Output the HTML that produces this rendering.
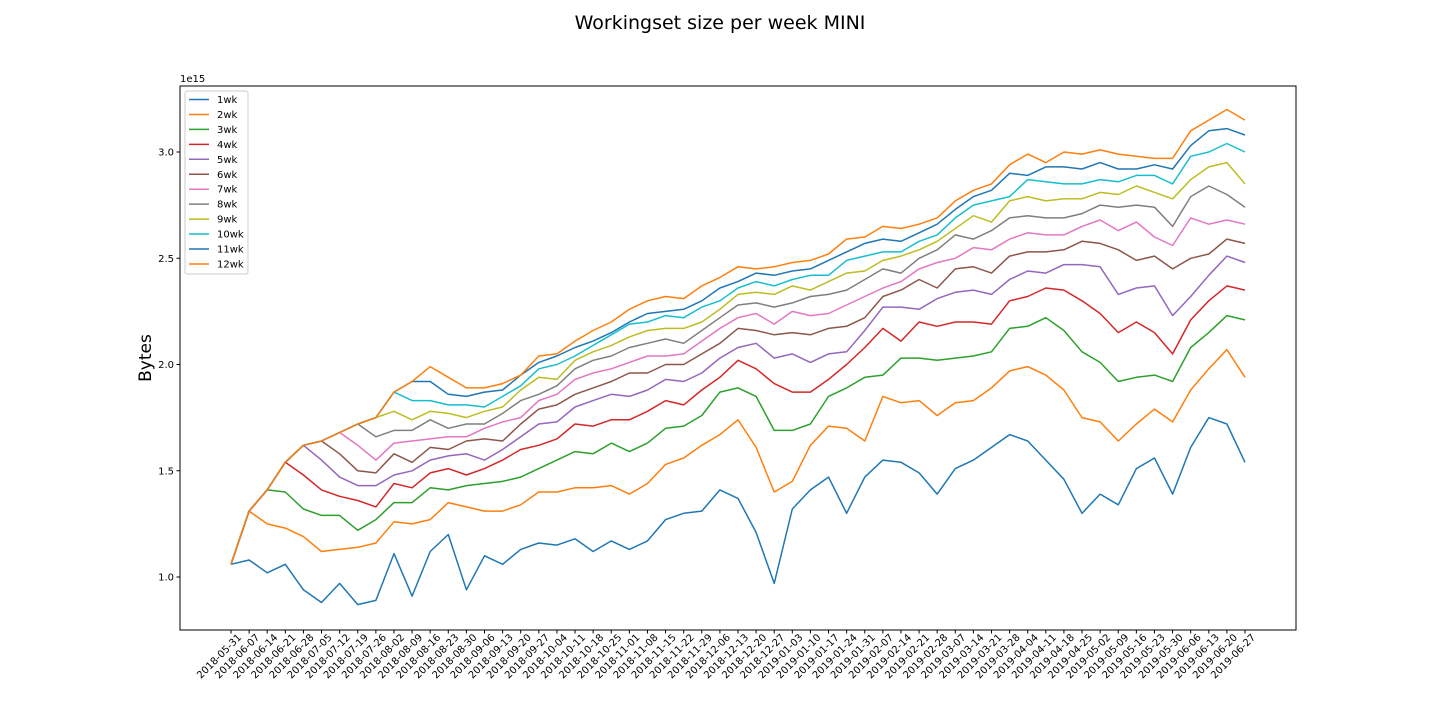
<!DOCTYPE html>
<html><head><meta charset="utf-8"><style>
body{margin:0;background:#fff;}
svg{display:block;font-family:"DejaVu Sans","Liberation Sans",sans-serif;}
</style></head><body>
<svg id="chart" width="1440" height="720" xmlns="http://www.w3.org/2000/svg"></svg>
<script>
const dates=["2018-05-31","2018-06-07","2018-06-14","2018-06-21","2018-06-28","2018-07-05","2018-07-12","2018-07-19","2018-07-26","2018-08-02","2018-08-09","2018-08-16","2018-08-23","2018-08-30","2018-09-06","2018-09-13","2018-09-20","2018-09-27","2018-10-04","2018-10-11","2018-10-18","2018-10-25","2018-11-01","2018-11-08","2018-11-15","2018-11-22","2018-11-29","2018-12-06","2018-12-13","2018-12-20","2018-12-27","2019-01-03","2019-01-10","2019-01-17","2019-01-24","2019-01-31","2019-02-07","2019-02-14","2019-02-21","2019-02-28","2019-03-07","2019-03-14","2019-03-21","2019-03-28","2019-04-04","2019-04-11","2019-04-18","2019-04-25","2019-05-02","2019-05-09","2019-05-16","2019-05-23","2019-05-30","2019-06-06","2019-06-13","2019-06-20","2019-06-27"];
const yTicks=[1.0,1.5,2.0,2.5,3.0];
const seriesNames=["1wk","2wk","3wk","4wk","5wk","6wk","7wk","8wk","9wk","10wk","11wk","12wk"];
const s1wk=[1.06,1.08,1.02,1.06,0.94,0.88,0.97,0.87,0.89,1.11,0.91,1.12,1.20,0.94,1.10,1.06,1.13,1.16,1.15,1.18,1.12,1.17,1.13,1.17,1.27,1.30,1.31,1.41,1.37,1.21,0.97,1.32,1.41,1.47,1.30,1.47,1.55,1.54,1.49,1.39,1.51,1.55,1.61,1.67,1.64,1.55,1.46,1.30,1.39,1.34,1.51,1.56,1.39,1.61,1.75,1.72,1.54];
const s2wk=[1.06,1.31,1.25,1.23,1.19,1.12,1.13,1.14,1.16,1.26,1.25,1.27,1.35,1.33,1.31,1.31,1.34,1.40,1.40,1.42,1.42,1.43,1.39,1.44,1.53,1.56,1.62,1.67,1.74,1.61,1.40,1.45,1.62,1.71,1.70,1.64,1.85,1.82,1.83,1.76,1.82,1.83,1.89,1.97,1.99,1.95,1.88,1.75,1.73,1.64,1.72,1.79,1.73,1.88,1.98,2.07,1.94];
const s3wk=[1.06,1.31,1.41,1.40,1.32,1.29,1.29,1.22,1.27,1.35,1.35,1.42,1.41,1.43,1.44,1.45,1.47,1.51,1.55,1.59,1.58,1.63,1.59,1.63,1.70,1.71,1.76,1.87,1.89,1.85,1.69,1.69,1.72,1.85,1.89,1.94,1.95,2.03,2.03,2.02,2.03,2.04,2.06,2.17,2.18,2.22,2.16,2.06,2.01,1.92,1.94,1.95,1.92,2.08,2.15,2.23,2.21];
const s4wk=[1.06,1.31,1.41,1.54,1.48,1.41,1.38,1.36,1.33,1.44,1.42,1.49,1.51,1.48,1.51,1.55,1.60,1.62,1.65,1.72,1.71,1.74,1.74,1.78,1.83,1.81,1.88,1.94,2.02,1.98,1.91,1.87,1.87,1.93,2.00,2.08,2.17,2.11,2.20,2.18,2.20,2.20,2.19,2.30,2.32,2.36,2.35,2.30,2.24,2.15,2.20,2.15,2.05,2.21,2.30,2.37,2.35];
const s5wk=[1.06,1.31,1.41,1.54,1.62,1.55,1.47,1.43,1.43,1.48,1.50,1.55,1.57,1.58,1.55,1.60,1.66,1.72,1.73,1.80,1.83,1.86,1.85,1.88,1.93,1.92,1.96,2.03,2.08,2.10,2.03,2.05,2.01,2.05,2.06,2.16,2.27,2.27,2.26,2.31,2.34,2.35,2.33,2.40,2.44,2.43,2.47,2.47,2.46,2.33,2.36,2.37,2.23,2.32,2.42,2.51,2.48];
const s6wk=[1.06,1.31,1.41,1.54,1.62,1.64,1.58,1.50,1.49,1.58,1.54,1.61,1.60,1.64,1.65,1.64,1.72,1.79,1.81,1.86,1.89,1.92,1.96,1.96,2.00,2.00,2.05,2.10,2.17,2.16,2.14,2.15,2.14,2.17,2.18,2.22,2.32,2.35,2.40,2.36,2.45,2.46,2.43,2.51,2.53,2.53,2.54,2.58,2.57,2.54,2.49,2.51,2.45,2.50,2.52,2.59,2.57];
const s7wk=[1.06,1.31,1.41,1.54,1.62,1.64,1.68,1.62,1.55,1.63,1.64,1.65,1.66,1.66,1.70,1.73,1.75,1.83,1.86,1.93,1.96,1.98,2.01,2.04,2.04,2.05,2.11,2.17,2.22,2.24,2.19,2.25,2.23,2.24,2.28,2.32,2.36,2.39,2.45,2.48,2.50,2.55,2.54,2.59,2.62,2.61,2.61,2.65,2.68,2.63,2.67,2.60,2.56,2.69,2.66,2.68,2.66];
const s8wk=[1.06,1.31,1.41,1.54,1.62,1.64,1.68,1.72,1.66,1.69,1.69,1.74,1.70,1.72,1.72,1.77,1.83,1.86,1.90,1.98,2.02,2.04,2.08,2.10,2.12,2.10,2.16,2.22,2.28,2.29,2.27,2.29,2.32,2.33,2.35,2.40,2.45,2.43,2.50,2.54,2.61,2.59,2.63,2.69,2.70,2.69,2.69,2.71,2.75,2.74,2.75,2.74,2.65,2.79,2.84,2.80,2.74];
const s9wk=[1.06,1.31,1.41,1.54,1.62,1.64,1.68,1.72,1.75,1.78,1.74,1.78,1.77,1.75,1.78,1.80,1.88,1.94,1.93,2.02,2.06,2.09,2.13,2.16,2.17,2.17,2.20,2.26,2.33,2.34,2.33,2.37,2.35,2.39,2.43,2.44,2.49,2.51,2.54,2.58,2.64,2.70,2.67,2.77,2.79,2.77,2.78,2.78,2.81,2.80,2.84,2.81,2.78,2.87,2.93,2.95,2.85];
const s10wk=[1.06,1.31,1.41,1.54,1.62,1.64,1.68,1.72,1.75,1.87,1.83,1.83,1.81,1.81,1.80,1.85,1.90,1.98,2.00,2.04,2.09,2.14,2.19,2.20,2.23,2.22,2.27,2.30,2.36,2.39,2.37,2.40,2.42,2.42,2.49,2.51,2.53,2.53,2.58,2.61,2.69,2.75,2.77,2.79,2.87,2.86,2.85,2.85,2.87,2.86,2.89,2.89,2.85,2.98,3.00,3.04,3.00];
const s11wk=[1.06,1.31,1.41,1.54,1.62,1.64,1.68,1.72,1.75,1.87,1.92,1.92,1.86,1.85,1.87,1.88,1.95,2.01,2.04,2.08,2.11,2.15,2.20,2.24,2.25,2.26,2.30,2.36,2.39,2.43,2.42,2.44,2.45,2.49,2.53,2.57,2.59,2.58,2.62,2.66,2.73,2.79,2.82,2.90,2.89,2.93,2.93,2.92,2.95,2.92,2.92,2.94,2.92,3.03,3.10,3.11,3.08];
const s12wk=[1.06,1.31,1.41,1.54,1.62,1.64,1.68,1.72,1.75,1.87,1.92,1.99,1.94,1.89,1.89,1.91,1.95,2.04,2.05,2.11,2.16,2.20,2.26,2.30,2.32,2.31,2.37,2.41,2.46,2.45,2.46,2.48,2.49,2.52,2.59,2.60,2.65,2.64,2.66,2.69,2.77,2.82,2.85,2.94,2.99,2.95,3.00,2.99,3.01,2.99,2.98,2.97,2.97,3.10,3.15,3.20,3.15];
const allSeries=[s1wk,s2wk,s3wk,s4wk,s5wk,s6wk,s7wk,s8wk,s9wk,s10wk,s11wk,s12wk];
const colors=["#1f77b4","#ff7f0e","#2ca02c","#d62728","#9467bd","#8c564b","#e377c2","#7f7f7f","#bcbd22","#17becf","#1f77b4","#ff7f0e"];

const NS="http://www.w3.org/2000/svg";
const svg=document.getElementById('chart');
const L=180,R=1296,T=86,B=630;
const xS=i=>231+i*(1245-231)/(dates.length-1);
const yS=v=>577-(v-1)*212.5;
function mk(tag,attrs,parent){const e=document.createElementNS(NS,tag);for(const k in attrs)e.setAttribute(k,attrs[k]);(parent||svg).appendChild(e);return e;}

const title=mk('text',{x:720,y:29,'text-anchor':'middle','font-size':19});
title.textContent='Workingset size per week MINI';



const frame=mk('rect',{x:L,y:T,width:R-L,height:B-T,fill:'none',stroke:'#000','stroke-width':1});



yTicks.forEach(v=>{
  const y=yS(v);
  const tk=mk('line',{x1:L-3.5,x2:L,y1:y,y2:y,stroke:'#000'});
  
  
  const t=mk('text',{x:L-6,y:y+3.5,'text-anchor':'end','font-size':10});
  t.textContent=v.toFixed(1);
  
  
});
const exp=mk('text',{x:L,y:82,'font-size':10});
exp.textContent='1e15';


const yl=mk('text',{x:0,y:0,'text-anchor':'middle','font-size':17,transform:'translate(151,358) rotate(-90)'});
yl.textContent='Bytes';



dates.forEach((d,i)=>{
  const x=xS(i);
  const tk=mk('line',{x1:x,x2:x,y1:B,y2:B+3.5,stroke:'#000'});
  
  
  const t=mk('text',{x:0,y:0,'text-anchor':'end','font-size':10,transform:`translate(${x+11},${B+8}) rotate(-45)`});
  t.textContent=d;
  
  
});

allSeries.forEach((s,k)=>{
  const p=mk('polyline',{points:s.map((v,i)=>xS(i).toFixed(1)+','+yS(v).toFixed(1)).join(' '),fill:'none',stroke:colors[k],'stroke-width':1.5,'stroke-linejoin':'round'});
  
  
});

const lg=mk('g',{});


const lb=mk('rect',{x:185,y:91,width:63,height:183,rx:2,fill:'#fff','fill-opacity':0.8,stroke:'#ccc'},lg);


seriesNames.forEach((n,k)=>{
  const y=99.5+k*14.95;
  const ln=mk('line',{x1:189,x2:209,y1:y,y2:y,stroke:colors[k],'stroke-width':1.5},lg);
  
  
  const t=mk('text',{x:217,y:y+3.5,'font-size':10},lg);
  t.textContent=n;
  
  
});
</script>
</body></html>
